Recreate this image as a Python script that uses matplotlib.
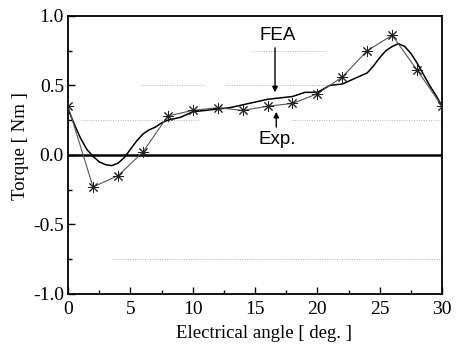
import matplotlib
matplotlib.use("Agg")
import matplotlib.pyplot as plt
from matplotlib.ticker import MultipleLocator

# Experimental data (asterisk markers)
exp_x = [0, 2, 4, 6, 8, 10, 12, 14, 16, 18, 20, 22, 24, 26, 28, 30]
exp_y = [0.35, -0.23, -0.15, 0.02, 0.28, 0.32, 0.34, 0.32, 0.35, 0.37, 0.44, 0.56, 0.75, 0.86, 0.61, 0.35]

# FEA curve
fea_x = [0, 0.5, 1, 1.5, 2, 2.5, 3, 3.5, 4, 4.5, 5, 5.5, 6, 6.5, 7, 7.5, 8, 9, 10, 11, 12, 13, 14, 15,
         16, 17, 18, 19, 20, 21, 22, 23, 24, 24.5, 25, 25.5, 26, 26.5, 27, 27.5, 28, 28.5, 29, 29.5, 30]
fea_y = [0.33, 0.22, 0.12, 0.04, -0.01, -0.05, -0.07, -0.077, -0.06, -0.02, 0.04, 0.10, 0.15, 0.18, 0.20, 0.23, 0.25, 0.27, 0.31, 0.32, 0.33, 0.34, 0.36, 0.38,
         0.40, 0.41, 0.42, 0.45, 0.45, 0.50, 0.51, 0.55, 0.59, 0.64, 0.70, 0.75, 0.78, 0.80, 0.78, 0.73, 0.66, 0.58, 0.50, 0.43, 0.35]

# faint dotted guide lines seen in the scan: (y, x-start, x-end)
guide_y = [0.75, 0.5, 0.5, 0.25, 0.25, -0.75]
guide_x0 = [14.7, 5.8, 12.5, 1.0, 18.0, 3.6]
guide_x1 = [20.7, 11.0, 21.0, 10.5, 30.0, 30.0]

xticks = [0, 5, 10, 15, 20, 25, 30]
yticks = [-1.0, -0.5, 0.0, 0.5, 1.0]

fig = plt.figure(figsize=(4.6, 3.45), dpi=100)
ax = fig.add_axes([0.148, 0.148, 0.813, 0.806])

serif = ["Liberation Serif", "DejaVu Serif"]
sans = ["Liberation Sans", "DejaVu Sans"]

for gy, g0, g1 in zip(guide_y, guide_x0, guide_x1):
    ax.plot([g0, g1], [gy, gy], color="#b0b0b0", lw=0.7, ls=(0, (1, 1.5)), zorder=1)

ax.axhline(0, color="black", lw=1.8, zorder=2)
ax.plot(fea_x, fea_y, color="black", lw=1.1, zorder=3)
ax.plot(exp_x, exp_y, color="#555555", lw=0.8, marker=(8, 2, 0), markersize=8,
        markeredgewidth=0.7, markeredgecolor="#222222", zorder=4)

ax.set_xlim(0, 30)
ax.set_ylim(-1.0, 1.0)
ax.set_xticks(xticks)
ax.set_yticks(yticks)
ax.set_xticklabels([str(t) for t in xticks], fontfamily=serif, fontsize=14)
ax.set_yticklabels([f"{t:.1f}" for t in yticks], fontfamily=serif, fontsize=14)
ax.xaxis.set_minor_locator(MultipleLocator(2.5))
ax.yaxis.set_minor_locator(MultipleLocator(0.25))
ax.tick_params(which="both", direction="in", top=False, right=False)
ax.tick_params(axis="x", which="major", pad=5)
ax.tick_params(axis="y", which="major", pad=3)
ax.tick_params(which="major", length=5, width=1)
ax.tick_params(which="minor", length=3, width=1)
for s in ax.spines.values():
    s.set_linewidth(1.3)

ax.set_xlabel("Electrical angle [ deg. ]", fontfamily=serif, fontsize=13.5)
ax.xaxis.set_label_coords(0.524, -0.112)
ax.set_ylabel("Torque [ Nm ]", fontfamily=serif, fontsize=13.5)
ax.yaxis.set_label_coords(-0.105, 0.532)

ax.annotate("", xy=(16.6, 0.43), xytext=(16.6, 0.79),
            arrowprops=dict(arrowstyle="-|>", color="black", lw=1, mutation_scale=8))
ax.text(16.8, 0.86, "FEA", ha="center", va="center", fontfamily=sans, fontsize=13.5)
ax.annotate("", xy=(16.7, 0.33), xytext=(16.7, 0.18),
            arrowprops=dict(arrowstyle="-|>", color="black", lw=1, mutation_scale=8))
ax.text(16.8, 0.11, "Exp.", ha="center", va="center", fontfamily=sans, fontsize=13.5)

fig.savefig("out.png", dpi=100)
